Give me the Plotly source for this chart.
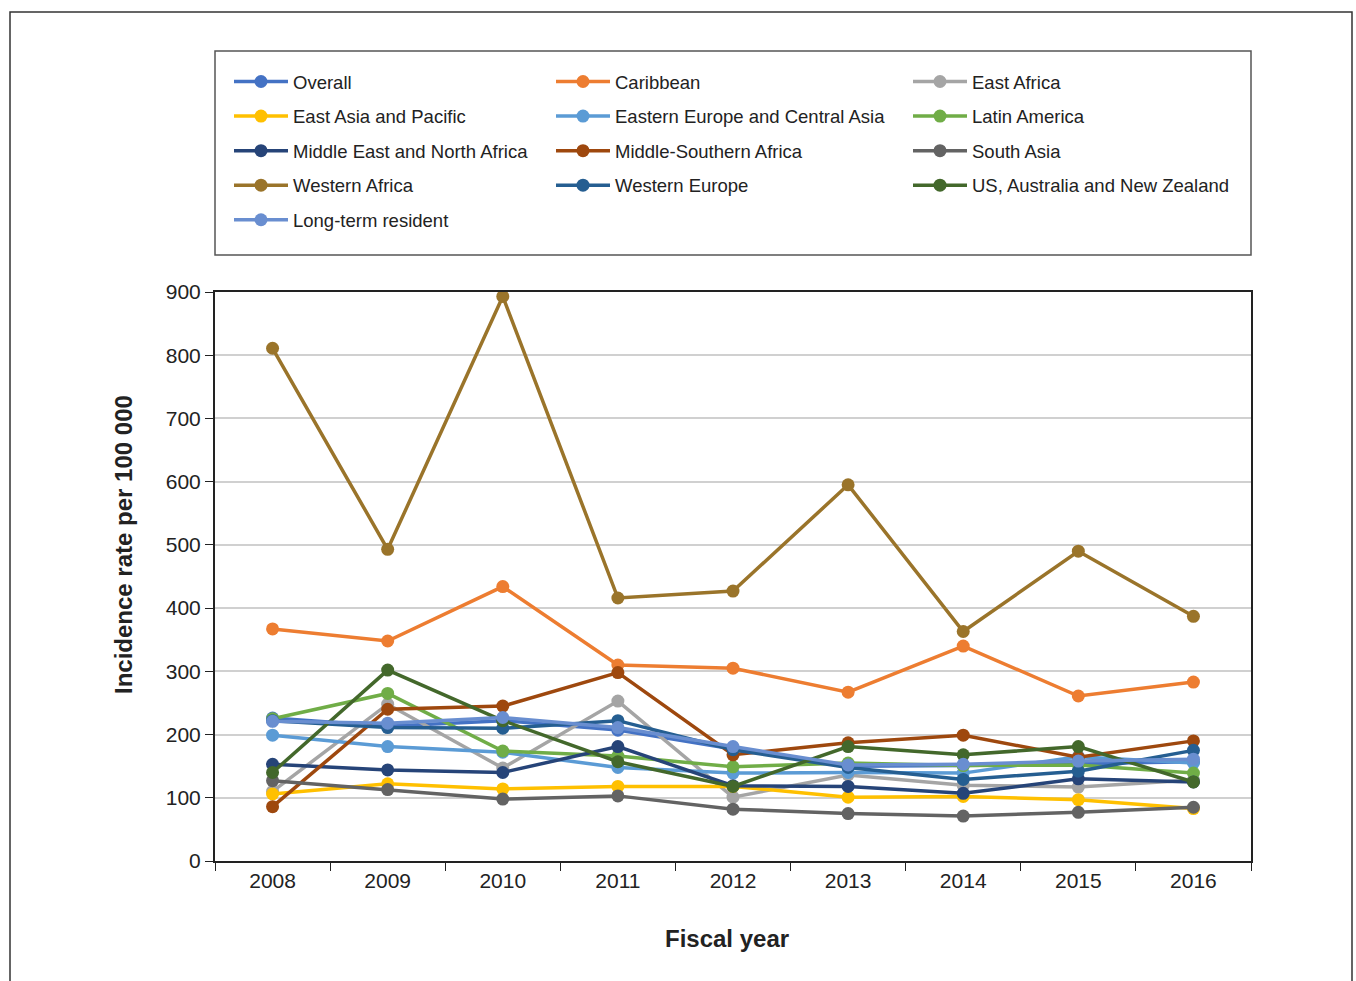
import plotly.graph_objects as go

years = ["2008", "2009", "2010", "2011", "2012", "2013", "2014", "2015", "2016"]

overall = [226, 213, 222, 207, 177, 150, 151, 154, 157]
caribbean = [367, 348, 434, 310, 305, 267, 340, 261, 283]
east_africa = [110, 248, 147, 253, 101, 136, 120, 117, 128]
east_asia_pacific = [106, 122, 114, 118, 118, 101, 102, 97, 83]
eastern_europe_central_asia = [199, 181, 172, 148, 139, 140, 139, 165, 155]
latin_america = [225, 265, 174, 166, 149, 155, 151, 152, 139]
middle_east_north_africa = [153, 144, 140, 181, 119, 118, 107, 130, 125]
middle_southern_africa = [86, 240, 245, 298, 168, 187, 199, 164, 190]
south_asia = [127, 113, 98, 103, 82, 75, 71, 77, 85]
western_africa = [811, 493, 893, 416, 427, 595, 363, 490, 387]
western_europe = [222, 211, 210, 222, 176, 148, 129, 142, 175]
us_australia_nz = [140, 302, 222, 157, 118, 181, 168, 181, 125]
long_term_resident = [221, 218, 227, 211, 181, 152, 153, 158, 161]

y_ticks = [0, 100, 200, 300, 400, 500, 600, 700, 800, 900]

series = [
    ("Overall", overall, "#4472C4", "legend"),
    ("Caribbean", caribbean, "#ED7D31", "legend2"),
    ("East Africa", east_africa, "#A5A5A5", "legend3"),
    ("East Asia and Pacific", east_asia_pacific, "#FFC000", "legend"),
    ("Eastern Europe and Central Asia", eastern_europe_central_asia, "#5B9BD5", "legend2"),
    ("Latin America", latin_america, "#70AD47", "legend3"),
    ("Middle East and North Africa", middle_east_north_africa, "#264478", "legend"),
    ("Middle-Southern Africa", middle_southern_africa, "#9E480E", "legend2"),
    ("South Asia", south_asia, "#636363", "legend3"),
    ("Western Africa", western_africa, "#9A742A", "legend"),
    ("Western Europe", western_europe, "#255E91", "legend2"),
    ("US, Australia and New Zealand", us_australia_nz, "#43682B", "legend3"),
    ("Long-term resident", long_term_resident, "#698ED0", "legend"),
]

W, H = 1356, 981
L, R, T, B = 215, 1251, 292, 861
pw, ph = R - L, B - T

def px(x):
    return (x - L) / pw

def py(y):
    return (B - y) / ph

FONT = "Liberation Sans, Arial, sans-serif"
TXT = "#222222"

fig = go.Figure()
for name, vals, color, leg in series:
    fig.add_trace(go.Scatter(
        x=years, y=vals, name=name, mode="lines+markers",
        line=dict(color=color, width=3.5),
        marker=dict(color=color, size=13),
        legend=leg, legendgroup=name,
    ))

leg_common = dict(
    bgcolor="rgba(0,0,0,0)", borderwidth=0,
    font=dict(family=FONT, size=18.5, color=TXT),
    xanchor="left", yanchor="top", orientation="v",
    itemwidth=54, tracegroupgap=7.5, traceorder="grouped",
)

fig.update_layout(
    width=W, height=H,
    margin=dict(l=L, r=W - R, t=T, b=H - B),
    paper_bgcolor="white", plot_bgcolor="white",
    font=dict(family=FONT, size=21, color=TXT),
    showlegend=True,
    legend=dict(x=px(229), y=py(63), **leg_common),
    legend2=dict(x=px(551), y=py(63), **leg_common),
    legend3=dict(x=px(908), y=py(63), **leg_common),
    xaxis=dict(
        type="category", range=[-0.5, 8.5],
        showline=True, linecolor="#222222", linewidth=2, mirror=True,
        ticks="outside", tickson="boundaries", ticklen=8, tickcolor="#222222", tickwidth=1.3,
        showgrid=False, tickfont=dict(size=21, family=FONT, color=TXT),
    ),
    yaxis=dict(
        range=[0, 900], tickvals=y_ticks,
        showline=True, linecolor="#222222", linewidth=2, mirror=True,
        ticks="outside", ticklen=8, tickcolor="#222222", tickwidth=1.3,
        showgrid=True, gridcolor="#D0D0D0", gridwidth=2, zeroline=False,
        tickfont=dict(size=21, family=FONT, color=TXT),
    ),
    shapes=[
        dict(type="rect", xref="paper", yref="paper",
             x0=px(10), x1=px(1352), y0=py(12), y1=py(990),
             line=dict(color="#333333", width=1.5), fillcolor="rgba(0,0,0,0)", layer="below"),
        dict(type="rect", xref="paper", yref="paper",
             x0=px(215), x1=px(1251), y0=py(51), y1=py(255),
             line=dict(color="#555555", width=1.5), fillcolor="rgba(0,0,0,0)", layer="below"),
    ],
    annotations=[
        dict(text="<b>Fiscal year</b>", xref="paper", yref="paper",
             x=px(727), y=py(938), xanchor="center", yanchor="middle",
             showarrow=False, font=dict(family=FONT, size=24, color=TXT)),
        dict(text="<b>Incidence rate per 100 000</b>", xref="paper", yref="paper",
             x=px(123), y=py(545), xanchor="center", yanchor="middle", textangle=-90,
             showarrow=False, font=dict(family=FONT, size=24, color=TXT)),
    ],
)

fig.write_html("out.html")
